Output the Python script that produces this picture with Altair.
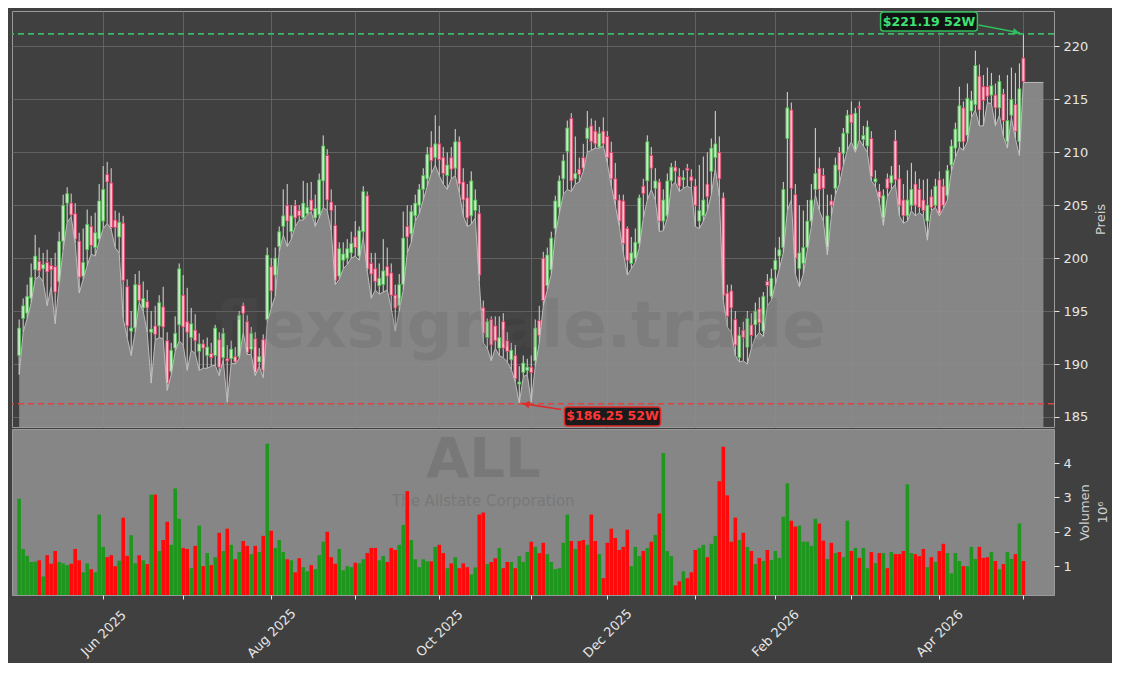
import json
import altair as alt
import pandas as pd

# ---------------- data ----------------
open_ = [
    190.8, 194.3, 194.8, 196.2, 198.9, 199.7, 199.0, 199.6, 199.3, 199.2,
    197.8, 201.6, 205.2, 205.2, 204.2, 201.6, 198.3, 200.8, 203.0, 201.0,
    201.8, 203.5, 207.9, 207.1, 203.6, 202.0, 203.3, 197.3, 193.1, 193.4,
    197.5, 195.3, 195.9, 193.0, 193.6, 193.6, 195.4, 192.2, 189.3, 191.5,
    193.7, 196.5, 194.0, 192.5, 193.2, 191.2, 191.9, 190.8, 191.0, 190.8,
    192.3, 190.6, 190.5, 190.5, 190.7, 190.7, 195.5, 194.0, 191.4, 192.4,
    190.2, 192.3, 194.2, 199.2, 198.4, 201.1, 203.0, 205.0, 202.5, 205.0,
    204.5, 203.8, 204.2, 205.5, 203.8, 204.1, 207.3, 209.7, 205.3, 203.1,
    198.3, 199.8, 200.0, 200.5, 202.0, 200.2, 202.5, 205.9, 199.5, 199.0,
    197.4, 197.5, 199.2, 198.6, 196.5, 195.5, 197.5, 203.0, 202.3, 204.0,
    205.0, 206.5, 207.5, 210.5, 209.5, 210.8, 209.5, 207.8, 209.5, 208.5,
    211.0, 207.2, 205.7, 204.0, 204.5, 204.2, 195.3, 192.5, 194.2, 193.6,
    191.5, 194.0, 192.2, 190.4, 190.8, 188.1, 189.2, 189.4, 189.7, 190.3,
    194.1, 200.0, 197.4, 198.9, 202.8, 204.8, 207.5, 210.1, 213.2, 207.5,
    208.4, 209.5, 211.3, 212.5, 212.0, 210.5, 212.0, 211.5, 210.0, 207.5,
    205.5, 205.4, 202.8, 199.5, 200.0, 201.4, 206.8, 207.3, 209.7, 206.6,
    207.2, 203.5, 204.0, 207.3, 208.6, 207.7, 207.4, 208.5, 207.7, 206.8,
    203.5, 204.0, 207.0, 208.2, 209.5, 210.0, 205.7, 196.7, 196.9, 194.2,
    190.6, 193.2, 191.6, 193.7, 193.7, 195.2, 193.1, 197.8, 196.4, 198.9,
    200.2, 201.0, 211.3, 214.0, 206.0, 199.0, 199.5, 201.0, 203.5, 206.5,
    208.5, 207.8, 201.0, 205.4, 206.6, 210.0, 209.9, 211.8, 213.6, 210.2,
    214.3, 211.2, 210.6, 211.3, 207.2, 206.3, 203.8, 207.5, 207.1, 211.1,
    207.5, 205.5, 204.0, 205.0, 207.0, 206.5, 205.5, 203.5, 205.8, 205.0,
    207.4, 206.8, 205.9, 208.8, 210.4, 211.0, 214.2, 211.6, 213.9, 214.5,
    217.2, 216.2, 216.2, 215.4, 215.4, 214.2, 215.5, 211.0, 213.5, 214.5,
    211.0, 218.9,
]
high = [
    194.2, 196.2, 197.5, 199.5, 202.2, 201.0, 200.5, 200.8, 200.0, 200.5,
    202.5, 206.0, 206.7, 206.1, 205.2, 202.4, 202.8, 204.6, 204.0, 204.3,
    207.0, 208.7, 209.1, 208.5, 204.5, 204.3, 204.0, 198.0, 195.0, 198.5,
    198.8, 197.8, 197.0, 195.0, 195.5, 196.5, 197.3, 193.0, 192.0, 194.5,
    199.5, 198.4, 197.2, 195.3, 194.7, 192.9, 192.3, 192.5, 192.0, 193.7,
    193.0, 193.4, 191.8, 192.2, 191.6, 195.0, 195.8, 194.6, 193.5, 193.0,
    191.5, 192.8, 201.0, 200.0, 201.0, 203.0, 206.5, 207.0, 205.0, 205.5,
    205.0, 207.3, 207.1, 207.2, 206.0, 208.0, 211.6, 210.3, 206.5, 205.0,
    201.5, 201.5, 201.8, 202.5, 203.5, 203.0, 206.8, 206.3, 200.5, 200.5,
    199.5, 201.8, 201.0, 199.5, 197.5, 198.5, 204.4, 205.0, 205.0, 206.0,
    207.0, 208.5, 210.5, 212.0, 213.5, 212.5, 210.5, 210.0, 210.5, 212.2,
    211.5, 208.5, 207.0, 208.2, 206.5, 205.0, 196.0, 194.3, 194.5, 194.5,
    194.5, 194.8, 193.0, 192.0, 191.8, 189.8, 190.8, 190.5, 190.8, 194.2,
    195.5, 200.6, 201.0, 202.5, 205.9, 207.8, 209.8, 213.0, 213.7, 211.5,
    209.5, 210.8, 213.9, 213.2, 213.0, 212.4, 213.3, 212.0, 211.0, 209.0,
    206.0, 206.0, 203.0, 202.0, 202.8, 206.0, 207.5, 211.6, 210.5, 208.5,
    207.5, 206.5, 208.0, 209.0, 209.2, 208.5, 208.3, 208.9, 208.4, 207.5,
    208.8, 209.6, 210.0, 211.3, 213.9, 211.5, 206.2, 197.5, 197.5, 195.0,
    193.5, 194.0, 195.0, 194.8, 195.8, 196.3, 196.8, 198.5, 199.0, 201.0,
    202.0, 207.2, 215.7, 214.7, 207.0, 205.0, 204.5, 205.5, 207.0, 212.3,
    209.5, 208.5, 206.0, 206.0, 209.5, 210.5, 212.3, 214.0, 214.8, 214.2,
    214.8, 212.5, 213.0, 212.0, 208.3, 207.0, 206.5, 208.0, 208.7, 212.1,
    208.8, 207.0, 208.3, 209.0, 208.2, 207.5, 207.4, 207.5, 206.5, 207.5,
    208.2, 207.5, 208.8, 211.2, 212.8, 216.2, 214.8, 216.5, 215.8, 219.6,
    218.3, 217.3, 218.0, 217.5, 216.5, 217.3, 216.0, 217.3, 218.0, 217.5,
    218.4, 221.19,
]
low = [
    189.0, 193.0, 194.3, 195.8, 198.0, 198.3, 197.8, 195.5, 197.3, 193.8,
    197.6, 200.8, 203.4, 203.9, 201.4, 196.7, 198.0, 199.3, 200.4, 200.2,
    201.6, 202.8, 203.3, 202.7, 201.0, 200.5, 194.3, 192.5, 190.8, 193.0,
    195.8, 195.0, 193.0, 188.2, 192.3, 192.5, 192.4, 187.5, 189.0, 191.2,
    192.2, 191.8, 189.4, 191.3, 191.0, 189.4, 189.6, 189.6, 189.8, 189.9,
    188.9, 190.4, 186.4, 190.1, 190.0, 190.5, 193.0, 190.9, 190.9, 188.9,
    189.8, 188.7, 193.9, 195.3, 196.4, 200.6, 202.2, 201.1, 201.8, 203.0,
    203.6, 203.6, 204.1, 204.4, 203.0, 203.8, 204.8, 204.5, 202.6, 197.5,
    198.0, 199.0, 199.4, 200.0, 200.2, 199.8, 202.0, 198.8, 196.2, 197.0,
    196.6, 196.8, 197.0, 195.3, 193.1, 195.0, 197.0, 200.5, 201.5, 203.5,
    204.2, 205.5, 206.8, 208.0, 208.8, 207.8, 207.0, 206.5, 207.5, 207.8,
    206.2, 204.0, 203.0, 203.2, 203.8, 197.8, 192.0, 191.5, 190.3, 191.5,
    190.8, 190.6, 190.2, 189.5, 188.3, 186.25, 188.8, 189.0, 186.4, 189.8,
    192.0, 195.5, 197.0, 198.5, 202.2, 204.2, 206.0, 206.5, 206.3, 207.0,
    207.2, 208.2, 210.0, 210.2, 210.4, 210.4, 210.6, 209.0, 206.8, 205.0,
    203.0, 200.5, 198.4, 199.0, 199.6, 201.0, 203.8, 205.5, 206.5, 205.5,
    202.5, 202.6, 203.8, 206.8, 207.2, 206.3, 206.6, 206.8, 206.6, 203.0,
    202.8, 203.5, 204.5, 206.0, 208.5, 205.8, 196.0, 193.5, 193.0, 190.8,
    190.2, 190.3, 190.0, 191.5, 192.5, 193.0, 192.6, 195.5, 196.0, 197.5,
    199.0, 200.5, 204.5, 205.5, 198.5, 197.3, 198.5, 200.8, 203.0, 206.0,
    204.5, 203.5, 200.3, 204.0, 206.0, 207.0, 208.8, 210.2, 211.0, 210.0,
    211.2, 210.6, 210.0, 207.3, 206.8, 205.3, 203.1, 205.8, 206.5, 207.0,
    204.0, 203.3, 203.5, 204.5, 204.0, 204.3, 204.0, 201.7, 204.5, 204.8,
    204.0, 204.7, 205.5, 208.2, 209.5, 210.5, 210.2, 211.0, 213.3, 214.0,
    212.5, 212.5, 214.7, 214.6, 212.5, 213.5, 211.5, 210.4, 213.3, 211.3,
    209.7, 216.6,
]
close = [
    193.4, 195.5, 196.4, 198.2, 200.2, 198.8, 199.4, 198.7, 198.9, 196.8,
    201.6, 205.0, 206.1, 204.1, 201.8, 198.2, 199.6, 203.2, 201.2, 202.4,
    205.4, 206.5, 207.2, 202.9, 202.9, 203.4, 197.9, 193.6, 193.4, 197.5,
    196.0, 196.2, 195.3, 193.3, 192.8, 195.8, 193.5, 188.2, 191.3, 192.9,
    199.0, 193.5, 193.0, 193.8, 192.2, 191.9, 191.5, 191.6, 190.6, 193.4,
    189.7, 192.9, 190.3, 191.4, 190.2, 194.6, 194.8, 191.1, 192.9, 189.2,
    190.7, 189.4, 200.3, 196.9, 200.0, 202.5, 204.0, 203.5, 204.0, 203.8,
    204.0, 205.2, 204.8, 204.5, 204.7, 207.4, 210.6, 205.5, 204.5, 197.9,
    200.9, 200.4, 200.9, 201.4, 201.0, 202.6, 206.3, 199.0, 198.5, 197.8,
    198.1, 198.8, 198.3, 196.5, 195.3, 197.5, 201.9, 202.0, 204.4, 205.2,
    206.5, 207.8, 209.8, 209.2, 210.8, 209.3, 208.0, 208.8, 208.4, 211.0,
    207.0, 205.5, 203.8, 207.3, 205.5, 198.4, 192.9, 194.0, 191.8, 192.2,
    192.5, 191.5, 191.2, 191.3, 188.6, 188.3, 190.1, 189.7, 189.2, 193.4,
    192.7, 196.0, 200.3, 201.9, 205.4, 207.3, 209.2, 212.3, 207.3, 208.0,
    207.9, 208.5, 212.3, 211.0, 210.8, 211.8, 210.8, 209.5, 207.5, 205.5,
    203.5, 201.4, 199.8, 200.5, 201.5, 205.7, 206.1, 211.0, 208.5, 207.3,
    203.5, 205.5, 207.3, 208.6, 208.2, 206.8, 207.6, 208.3, 207.3, 205.0,
    204.5, 205.5, 205.8, 210.4, 210.8, 207.5, 196.5, 194.5, 195.3, 191.8,
    192.7, 192.5, 194.3, 192.7, 195.0, 193.9, 196.4, 197.4, 198.1, 199.8,
    200.8, 206.5, 214.2, 206.6, 200.0, 200.5, 201.0, 203.5, 205.5, 208.0,
    206.5, 206.6, 204.0, 205.0, 208.8, 208.3, 211.8, 213.5, 212.8, 213.7,
    214.2, 211.6, 212.4, 207.7, 207.5, 205.7, 205.9, 206.6, 207.8, 207.4,
    205.0, 204.0, 205.5, 206.5, 205.0, 204.8, 204.5, 205.0, 204.8, 206.8,
    204.2, 205.0, 208.3, 210.6, 212.2, 214.4, 211.0, 215.1, 214.9, 218.2,
    214.0, 214.9, 215.3, 216.3, 214.2, 216.7, 213.0, 213.0, 215.0, 212.0,
    216.0, 216.7,
]
volume = [  # millions
    2.96, 1.5, 1.3, 1.12, 1.13, 1.17, 0.7, 1.32, 1.07, 1.44,
    1.12, 1.08, 1.03, 1.07, 1.5, 1.17, 0.82, 1.08, 0.91, 0.82,
    2.5, 1.56, 1.26, 1.32, 1.0, 1.16, 2.41, 1.3, 1.9, 1.08,
    1.32, 1.17, 1.06, 3.08, 3.08, 1.44, 1.76, 2.29, 1.62, 3.26,
    2.38, 1.53, 1.5, 0.94, 1.59, 2.18, 1.0, 1.38, 1.03, 1.26,
    1.97, 1.44, 2.09, 1.62, 1.2, 1.41, 1.73, 1.59, 1.35, 1.59,
    1.41, 1.88, 4.56, 2.03, 1.53, 1.76, 1.41, 1.2, 1.17, 0.82,
    1.23, 0.97, 0.85, 1.03, 0.91, 1.32, 1.71, 2.0, 1.26, 1.07,
    1.5, 0.88, 1.0, 0.97, 1.1, 1.08, 1.2, 1.38, 1.53, 1.53,
    1.17, 1.29, 1.12, 1.53, 1.47, 1.62, 2.2, 3.18, 1.76, 1.2,
    0.97, 1.2, 1.14, 1.14, 1.56, 1.62, 1.38, 0.94, 1.08, 1.26,
    0.94, 1.08, 0.97, 0.76, 0.96, 2.5, 2.56, 1.06, 1.12, 1.23,
    1.53, 0.94, 1.12, 1.12, 0.94, 1.29, 1.12, 1.41, 1.71, 1.56,
    1.38, 1.68, 1.35, 1.12, 0.91, 0.94, 1.68, 2.5, 1.73, 1.5,
    1.73, 1.76, 1.62, 2.5, 1.73, 1.35, 0.65, 1.68, 2.09, 1.82,
    1.47, 1.56, 2.06, 1.0, 1.56, 1.29, 1.44, 1.53, 1.71, 1.91,
    2.53, 4.29, 1.44, 1.29, 0.44, 0.56, 0.85, 0.65, 0.82, 1.47,
    1.53, 1.62, 1.26, 1.65, 1.88, 3.47, 4.47, 3.06, 1.71, 2.41,
    1.76, 1.97, 1.56, 1.44, 1.06, 1.24, 1.15, 1.47, 1.18, 1.44,
    1.24, 2.44, 3.41, 2.32, 2.15, 2.18, 1.71, 1.71, 1.59, 2.38,
    2.24, 1.74, 1.21, 1.68, 1.38, 1.41, 1.26, 2.32, 1.44, 1.53,
    1.24, 1.53, 0.94, 1.41, 1.09, 1.38, 1.38, 0.94, 1.41, 1.35,
    1.35, 1.44, 3.38, 1.38, 1.35, 1.29, 1.5, 0.97, 1.26, 1.12,
    1.44, 1.65, 1.38, 0.79, 1.38, 1.15, 1.0, 1.0, 1.56, 1.21,
    1.56, 1.24, 1.26, 1.41, 1.15, 0.91, 1.06, 1.41, 1.21, 1.35,
    2.24, 1.15,
]

# month ticks (trading-day index of first session of each month)
tick_idx = [21, 41, 63, 84, 105, 128, 147, 169, 189, 208, 230, 251]
tick_lbl = ["Jun 2025", "", "Aug 2025", "", "Oct 2025", "", "Dec 2025", "",
            "Feb 2026", "", "Apr 2026", ""]
price_ticks = [185, 190, 195, 200, 205, 210, 215, 220]
vol_ticks = [1, 2, 3, 4]

x_domain = [-0.54, 257.4]
price_domain = [184.05, 223.35]
vol_domain = [0.16, 4.99]
area_tail_idx = 256

hi52, lo52 = 221.19, 186.25
hi_text, lo_text = "$221.19 52W", "$186.25 52W"
watermark = "flexsignale.trade"
ticker = "ALL"
company = "The Allstate Corporation"

# annotation placements (data units)
hi_box = {"x": [215.3], "x2": [239.5], "y": [221.46], "y2": [223.25], "tx": [227.4], "ty": [222.35]}
lo_box = {"x": [136.3], "x2": [160.3], "y": [184.15], "y2": [185.95], "tx": [148.3], "ty": [185.05]}
hi_arrow = {"x": [239.8], "y": [222.03], "x2": [250.2], "y2": [221.28], "hx": [249.2], "hy": [221.34]}
lo_arrow = {"x": [135.5], "y": [185.7], "x2": [125.6], "y2": [186.28], "hx": [126.7], "hy": [186.21]}
wm_pos = {"x": [125.2], "y": [191.6]}
tk_pos = {"x": [116.0], "y": [3.6]}
co_pos = {"x": [116.0], "y": [2.76]}

# ---------------- tables ----------------
n = len(close)
df = pd.DataFrame({"i": list(range(n)), "open": open_, "high": high,
                   "low": low, "close": close, "vol": volume})
df["vbase"] = vol_domain[0]
area_df = pd.DataFrame({"i": list(range(n)) + [area_tail_idx], "low": low + [low[-1]]})
area_df["base"] = price_domain[0]

W, HP, HV = 1042, 416, 166
FONT = "DejaVu Sans"
UP = "datum.close >= datum.open"

XS = alt.Scale(domain=x_domain, nice=False, zero=False)
YP = alt.Scale(domain=price_domain, nice=False, zero=False)
YV = alt.Scale(domain=vol_domain, nice=False, zero=False)

x_axis_price = alt.Axis(values=tick_idx, grid=True, gridColor="#6a6a6a", gridWidth=0.8,
                        labels=False, ticks=False, domain=False, title=None)
y_axis_price = alt.Axis(orient="right", values=price_ticks, grid=True, gridColor="#6a6a6a",
                        gridWidth=0.8, title="Preis", titleAngle=270, titlePadding=20,
                        tickSize=5, labelPadding=4, domain=False, format="d")

lbl_expr = "{}[indexof({}, datum.value)]".format(json.dumps(tick_lbl), json.dumps(tick_idx))
x_axis_vol = alt.Axis(values=tick_idx, labelExpr=lbl_expr, labelAngle=-45, labelAlign="center",
                      labelBaseline="middle", labelPadding=34, tickSize=4, grid=False,
                      domain=False, title=None, labelOverlap=False, labelFlush=False)
y_axis_vol = alt.Axis(orient="right", values=vol_ticks, grid=False, title=["Volumen", "10⁶"],
                      titleAngle=270, titlePadding=2, titleLineHeight=18, tickSize=5,
                      labelPadding=4, domain=False, format="d")


def XP(field="i"):
    return alt.X(f"{field}:Q", scale=XS, axis=x_axis_price)


def YPr(field):
    return alt.Y(f"{field}:Q", scale=YP, axis=y_axis_price)


# ---------------- price panel ----------------
wicks = alt.Chart(df).mark_rule(strokeWidth=1).encode(
    x=XP(), y=YPr("low"), y2="high:Q",
    color=alt.condition(UP, alt.value("#d2e2d2"), alt.value("#e6cdd3")))

bodies = alt.Chart(df).mark_bar(size=2.9, strokeWidth=0.9).encode(
    x=XP(), y=YPr("open"), y2="close:Q",
    fill=alt.condition(UP, alt.value("#cfe6cf"), alt.value("#f0c6d0")),
    stroke=alt.condition(UP, alt.value("#4cc24c"), alt.value("#e63d68")))

area = alt.Chart(area_df).mark_area(
    color="#8e8e8e", opacity=0.9, clip=True,
    line={"color": "#c4c4c4", "strokeWidth": 1, "opacity": 0.9}).encode(
    x=XP(), y=YPr("low"), y2="base:Q")

wm = alt.Chart(pd.DataFrame(wm_pos)).mark_text(
    text=watermark, font=FONT, fontSize=64, fontWeight="bold", color="#5a5a5a",
    opacity=0.2, align="center", baseline="alphabetic").encode(x=XP("x"), y=YPr("y"))

hi_rule = alt.Chart(pd.DataFrame({"y": [hi52]})).mark_rule(
    color="#3cb868", strokeDash=[6, 4], strokeWidth=1.6, opacity=1).encode(y=YPr("y"))
lo_rule = alt.Chart(pd.DataFrame({"y": [lo52]})).mark_rule(
    color="#e04040", strokeDash=[6, 4], strokeWidth=1.6, opacity=1).encode(y=YPr("y"))


def annotation(box, arrow, label, col_line, col_text, shape, angle):
    bdf = pd.DataFrame(box)
    adf = pd.DataFrame(arrow)
    line = alt.Chart(adf).mark_rule(color=col_line, strokeWidth=1.6).encode(
        x=XP("x"), y=YPr("y"), x2="x2:Q", y2="y2:Q")
    head = alt.Chart(adf).mark_point(shape=shape, angle=angle, filled=True, size=55,
                                     color=col_line, opacity=1).encode(
        x=XP("hx"), y=YPr("hy"))
    rect = alt.Chart(bdf).mark_rect(fill="#0c0c0c", fillOpacity=0.88, stroke=col_line,
                                    strokeWidth=1.5, cornerRadius=3).encode(
        x=XP("x"), x2="x2:Q", y=YPr("y"), y2="y2:Q")
    txt = alt.Chart(bdf).mark_text(text=label, font=FONT, fontSize=12.5, fontWeight="bold",
                                   color=col_text, align="center", baseline="middle").encode(
        x=XP("tx"), y=YPr("ty"))
    return [line, head, rect, txt]


price = alt.layer(
    wicks, bodies, area, wm, hi_rule, lo_rule,
    *annotation(hi_box, hi_arrow, hi_text, "#2fbf5c", "#3ee373", "triangle-right", 12),
    *annotation(lo_box, lo_arrow, lo_text, "#e02b2b", "#ff3636", "triangle-left", 9),
).properties(width=W, height=HP,
             view=alt.ViewBackground(fill="#404040", stroke="#9a9a9a", strokeWidth=1))

# ---------------- volume panel ----------------
XV = alt.X("i:Q", scale=XS, axis=x_axis_vol)
YVv = alt.Y("vol:Q", scale=YV, axis=y_axis_vol)

tk = alt.Chart(pd.DataFrame(tk_pos)).mark_text(
    text=ticker, font=FONT, fontSize=56, fontWeight="bold", color="#5a5a5a", opacity=0.3,
    align="center", baseline="alphabetic").encode(
    x=alt.X("x:Q", scale=XS, axis=x_axis_vol), y=alt.Y("y:Q", scale=YV, axis=y_axis_vol))
co = alt.Chart(pd.DataFrame(co_pos)).mark_text(
    text=company, font=FONT, fontSize=15, color="#5a5a5a", opacity=0.3,
    align="center", baseline="alphabetic").encode(
    x=alt.X("x:Q", scale=XS, axis=x_axis_vol), y=alt.Y("y:Q", scale=YV, axis=y_axis_vol))

vbars = alt.Chart(df).mark_bar(size=3.6).encode(
    x=XV, y=YVv, y2="vbase:Q",
    color=alt.condition(UP, alt.value("#1f971f"), alt.value("#ff0a0a")))

vol = alt.layer(tk, co, vbars).properties(
    width=W, height=HV,
    view=alt.ViewBackground(fill="#868686", stroke="#9a9a9a", strokeWidth=1))

chart = alt.vconcat(price, vol, spacing=0).properties(
    padding={"left": 2, "top": 2, "right": 2, "bottom": 2}
).configure(background="#404040", font=FONT).configure_axis(
    labelFont=FONT, titleFont=FONT, labelColor="#e6e6e6", titleColor="#cfcfcf",
    tickColor="#e6e6e6", labelFontSize=13, titleFontSize=13, titleFontWeight="normal")

chart.save("out.html", embed_options={"renderer": "svg", "actions": False})
